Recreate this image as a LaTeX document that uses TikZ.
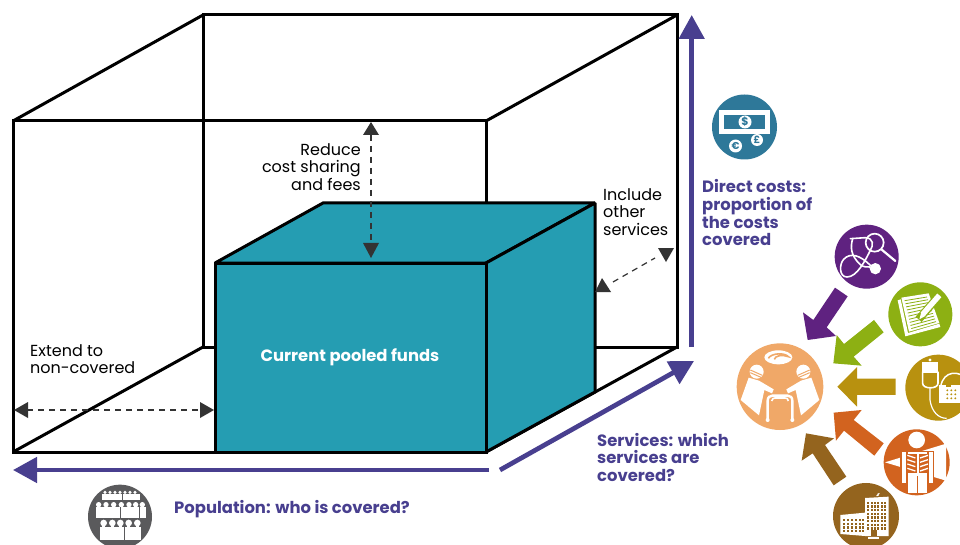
\documentclass[tikz,border=0pt]{standalone}
\usepackage{fontspec}
\setmainfont{Poppins}
\usetikzlibrary{arrows.meta}
\definecolor{teal1}{HTML}{259DB2}
\definecolor{navy1}{HTML}{483F8F}
\definecolor{money}{HTML}{2E7899}
\definecolor{purp}{HTML}{5F2280}
\definecolor{grn}{HTML}{8DB013}
\definecolor{gold}{HTML}{B8910F}
\definecolor{orng}{HTML}{D2631F}
\definecolor{brwn}{HTML}{94641E}
\definecolor{peach}{HTML}{F0A868}
\definecolor{greyc}{HTML}{5A5A5C}
\definecolor{dark}{HTML}{333333}
\tikzset{
 edge/.style={draw=black,line width=3pt,line join=miter,miter limit=1.5},
 axis/.style={draw=navy1,line width=4.7pt,-{Triangle[length=24pt,width=25pt]}},
 gap/.style={draw=dark,line width=1.2pt,dash pattern=on 6pt off 5pt},
 gaptip/.style={fill=dark,draw=none},
 plain/.style={font=\fontsize{16}{17.6}\selectfont,text=black,inner sep=0pt},
 lab/.style={font=\fontsize{16.4}{17.6}\selectfont\bfseries,text=navy1,inner sep=0pt,align=left}
}
\begin{document}
\begin{tikzpicture}[x=1pt,y=-1pt]
\clip (0,0) rectangle (960,545);
\fill[white] (0,0) rectangle (960,545);
% corner coordinates
\coordinate (fa) at (13,121); \coordinate (fb) at (486,121);
\coordinate (fc) at (486,452); \coordinate (fd) at (13,452);
\coordinate (ba) at (203,15); \coordinate (bb) at (677,15);
\coordinate (bc) at (677,347); \coordinate (bd) at (203,347);
\coordinate (ia) at (215,263); \coordinate (ib) at (486,263);
\coordinate (ic) at (486,452); \coordinate (id) at (215,452);
\coordinate (ie) at (323,203); \coordinate (if) at (595,203);
\coordinate (ig) at (595,392);
% back box
\draw[edge] (ba) -- (bb) -- (bc) -- (bd) -- cycle;
\draw[edge] (fa) -- (ba) (fb) -- (bb) (fc) -- (bc) (fd) -- (bd);
% front box
\draw[edge] (fa) rectangle (fc);
% teal block
\filldraw[edge,fill=teal1] (ia) -- (ie) -- (if) -- (ib) -- cycle;
\filldraw[edge,fill=teal1] (ib) -- (if) -- (ig) -- (ic) -- cycle;
\filldraw[edge,fill=teal1] (ia) rectangle (ic);
\node[inner sep=0pt,text=white,font=\fontsize{16.4}{17}\selectfont\bfseries] (funds) at (350,357.5) {Current pooled funds};
% axes
\coordinate (upS) at (691.7,347); \coordinate (upE) at (691.7,15);
\coordinate (lfS) at (489,470); \coordinate (lfE) at (13,470);
\coordinate (dgS) at (500,470); \coordinate (dgE) at (694,361);
\draw[axis] (upS) -- (upE);
\draw[axis] (lfS) -- (lfE);
\draw[axis] (dgS) -- (dgE);
% dashed arrows
\coordinate (d1a) at (371,122); \coordinate (d1b) at (371,258);
\coordinate (d2a) at (14,410); \coordinate (d2b) at (214,410);
\coordinate (d3a) at (602,278); \coordinate (d3b) at (666,262);
\draw[gap] (371,135) -- (371,244);
\draw[gap] (27,410) -- (201,410);
\draw[gap] (613,282) -- (655,258);
\fill[gaptip] (d1a) -- (363,135) -- (379,135) -- cycle;
\fill[gaptip] (d1b) -- (363,243) -- (379,243) -- cycle;
\fill[gaptip] (d2a) -- (28,402) -- (28,418) -- cycle;
\fill[gaptip] (d2b) -- (200,402) -- (200,418) -- cycle;
\fill[gaptip] (d3a) -- (595,292) -- (611,292) -- cycle;
\fill[gaptip] (d3b) -- (658,248) -- (674,248) -- cycle;
% labels
\node[plain,align=right,anchor=north east] (reduce) at (361,143) {Reduce\\cost sharing\\and fees};
\node[plain,align=left,anchor=north west] (incl) at (603,188) {Include\\other\\services};
\node[plain,align=left,anchor=north west] (ext) at (30,344) {Extend to\\non-covered};
\node[lab,anchor=north west] (direct) at (702,179.5) {Direct costs:\\proportion of\\the costs\\covered};
\node[lab,anchor=north west] (serv) at (597,433) {Services: which\\services are\\covered?};
\node[lab,anchor=west] (pop) at (174,509) {Population: who is covered?};
% money icon
\fill[money] (744.5,127) circle (32.5);
\fill[white] (719,110) rectangle (770,134);
\fill[money] (724,115) rectangle (765,129);
\fill[white] (745,122) circle (6.5);
\fill[white] (757,140) circle (6);
\fill[white] (735.5,146) circle (6.5);
\node[text=money,inner sep=0pt,font=\fontsize{11}{11}\selectfont\bfseries] (dollar) at (745,122) {\$};
\node[text=money,inner sep=0pt,font=\fontsize{10}{10}\selectfont\bfseries] (pound) at (757,140) {£};
\node[text=money,inner sep=0pt,font=\fontsize{10}{10}\selectfont\bfseries] (euro) at (735.5,146) {€};
% people icon
\begin{scope}[shift={(70,470)},scale=1/3]
\fill[greyc] (150,140) circle (96);
\fill[white] (97,72) rectangle (209,89);
\fill[white] (78,112) rectangle (228,143);
\fill[white] (90,172) rectangle (212,210);
\foreach \x in {105,120,135,150,165,180,195} \fill[white] (\x,67) circle (5);
\foreach \x in {86,108,131,154,177,197,217} \fill[white] (\x,104) circle (8);
\foreach \x in {101,127,151,176,202} \fill[white] (\x,159) circle (10);
\foreach \x in {101,127,151,176,202} \fill[white] (\x-5,165) rectangle (\x+5,173);
\foreach \x in {86,108,131,154,177,197,217} \fill[white] (\x-4,108) rectangle (\x+4,113);
\draw[greyc,line width=.8pt] (158,72) -- (158,89) (152,112) -- (152,143) (208,112) -- (208,143) (163,172) -- (163,210);
\end{scope}
% right group: arrows
\begin{scope}[shift={(730,220)},scale=1/3]
\fill[purp] (315,203) -- (353,229) -- (290,322) -- (318,348) -- (233,360) -- (219,277) -- (250,300) -- cycle;
\fill[grn] (432,300) -- (461,337) -- (371,410) -- (395,437) -- (310,430) -- (320,345) -- (342,372) -- cycle;
\fill[gold] (497,476) -- (497,525) -- (381,525) -- (381,560) -- (322,500) -- (381,441) -- (381,476) -- cycle;
\fill[orng] (461,670) -- (433,707) -- (342,632) -- (318,662) -- (311,578) -- (395,570) -- (371,600) -- cycle;
\fill[brwn] (349,770) -- (311,796) -- (248,700) -- (215,722) -- (228,640) -- (312,655) -- (285,675) -- cycle;
\end{scope}
% peach patient
\begin{scope}[shift={(735,340)},scale=1/3]
\fill[peach] (135,140) circle (130);
\fill[white] (130,52) ellipse [x radius=42,y radius=21];
\draw[peach,line width=1.6pt] (100,55) .. controls (110,38) and (150,38) .. (160,50) .. controls (140,42) and (120,48) .. (118,58);
\fill[white] (41,113) -- (72,122) -- (116,148) -- (111,160) -- (88,150) -- (72,226) -- (17,180) -- cycle;
\fill[white] (229,113) -- (198,122) -- (154,148) -- (159,160) -- (182,150) -- (198,226) -- (253,180) -- cycle;
\fill[white] (65,95) circle (21);
\fill[white] (205,95) circle (21);
\draw[peach,line width=1pt] (46,90) -- (82,106) (46,98) -- (78,112) (224,90) -- (188,106) (224,98) -- (192,112);
\draw[white,line width=2.4pt] (98,240) -- (98,182) .. controls (98,172) and (104,167) .. (112,167) -- (158,167) .. controls (166,167) and (172,172) .. (172,182) -- (172,240);
\draw[white,line width=1.6pt] (110,183) .. controls (112,175) and (116,174) .. (120,174) -- (150,174) .. controls (156,174) and (158,175) .. (160,183);
\fill[white] (98,240) circle (6); \fill[white] (172,240) circle (6);
\end{scope}
% purple stethoscope + green notes
\begin{scope}[shift={(832,222)},scale=1/3]
\fill[purp] (104,104) circle (96);
\draw[white,line width=1.7pt] (128,62) circle (27);
\draw[white,line width=2.2pt,line cap=round] (148,82) -- (190,117);
\fill[white] (130,140) circle (17);
\draw[white,line width=1.6pt,line cap=round] (55,50) -- (100,47) .. controls (125,48) and (125,70) .. (115,85) .. controls (100,115) and (75,165) .. (45,165) .. controls (20,165) and (22,125) .. (35,112) .. controls (55,90) and (85,100) .. (115,130);
\draw[white,line width=1.6pt,line cap=round] (62,50) .. controls (55,75) and (55,100) .. (85,128) .. controls (95,136) and (105,135) .. (115,135);
\fill[grn] (265,277) circle (96);
\fill[white] (197,235) -- (206,232) -- (228,333) -- (322,305) -- (325,315) -- (220,343) -- cycle;
\fill[white] (208,227) -- (290,214) -- (322,303) -- (231,329) -- cycle;
\foreach \i in {0,...,9} \draw[grn,line width=.8pt] ({218+2.2*\i},{236+9.3*\i}) -- ({285+3*\i},{225+8.2*\i});
\draw[grn,line width=8pt] (260,292) -- (322,220);
\draw[white,line width=5.5pt] (272,277) -- (322,220);
\fill[white] (262,292) -- (268,270) -- (280,282) -- cycle;
\end{scope}
% gold IV + orange xray
\begin{scope}[shift={(880,350)},scale=1/3]
\fill[gold] (175,113) circle (99);
\fill[white] (127,35) rectangle (175,70);
\draw[white,line width=1.6pt] (128,65) -- (128,100) .. controls (128,118) and (174,118) .. (174,100) -- (174,65);
\fill[white] (150,30) circle (5);
\draw[white,line width=1.2pt] (150,115) -- (150,150) .. controls (155,185) and (175,205) .. (200,205);
\draw[white,line width=1.5pt] (182,110) .. controls (190,60) and (240,60) .. (262,90);
\fill[white] (178,105) rectangle (255,160);
\foreach \y in {121,133,145} \foreach \x in {202,214,226} \fill[gold] (\x,\y) circle (3.2);
\fill[gold] (198,106) rectangle (214,112);
\fill[orng] (110,337) circle (99);
\fill[white] (15,337) -- (198,281) -- (198,392) -- cycle;
\fill[orng] (60,303) rectangle (163,405);
\fill[white] (110,270) circle (25);
\fill[white] (65,306) rectangle (79,398);
\fill[white] (147,306) rectangle (159,398);
\fill[white] (85,305) rectangle (140,311);
\foreach \y in {316,329,342,355} {\draw[white,line width=1.3pt] (82,\y) -- (106,\y+8); \draw[white,line width=1.3pt] (144,\y) -- (120,\y+8);}
\draw[white,line width=2pt] (113,311) -- (113,370);
\fill[white] (85,370) -- (140,370) -- (140,430) -- (85,430) -- cycle;
\draw[orng,line width=.8pt] (112,378) -- (112,430);
\end{scope}
% brown hospital
\begin{scope}[shift={(730,220)},scale=1/3]
\fill[brwn] (408,888) circle (99);
\fill[white] (405,834) -- (476,830) -- (476,948) -- (405,948) -- cycle;
\fill[white] (331,885) -- (405,878) -- (405,948) -- (331,942) -- cycle;
\foreach \x in {412,422,432,442,452,462} \foreach \y in {845,856,867,878,889,900,911,922} \fill[brwn] (\x,\y) rectangle ++(6,7);
\foreach \x in {338,350,362,374,386,396} \foreach \y in {897,908,919,930} \fill[brwn] (\x,\y) rectangle ++(7,7);
\fill[brwn] (422,930) rectangle (440,948);
\fill[white] (414,952) rectangle (448,957);
\draw[white,line width=1pt] (440,828) -- (448,820) (444,820) -- (444,828);
\end{scope}
\end{tikzpicture}
\end{document}
